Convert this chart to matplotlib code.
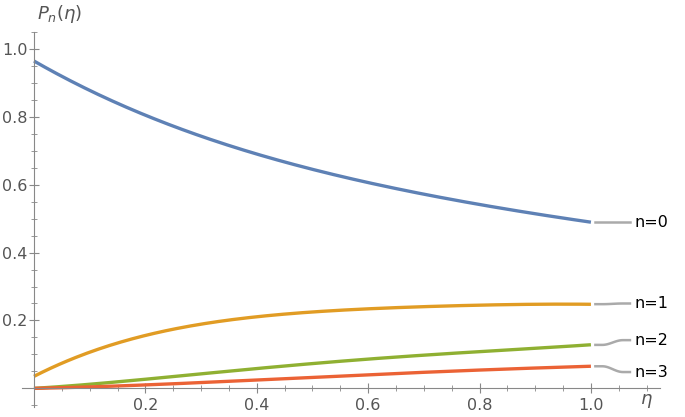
import numpy as np
import matplotlib.pyplot as plt
from matplotlib.ticker import MultipleLocator

eta = [0.0, 0.1, 0.2, 0.3, 0.4, 0.5, 0.6, 0.7, 0.8, 0.9, 1.0]
p0 = [0.963, 0.882, 0.803, 0.741, 0.690, 0.647, 0.607, 0.572, 0.541, 0.514, 0.490]
p1 = [0.035, 0.107, 0.156, 0.189, 0.210, 0.225, 0.235, 0.241, 0.245, 0.247, 0.248]
p2 = [0.0, 0.012, 0.026, 0.043, 0.059, 0.073, 0.086, 0.097, 0.108, 0.119, 0.128]
p3 = [0.0, 0.004, 0.010, 0.017, 0.025, 0.032, 0.040, 0.047, 0.054, 0.060, 0.065]
labels = ["n=0", "n=1", "n=2", "n=3"]
label_y = [0.490, 0.250, 0.142, 0.048]
colors = ["#5E81B5", "#E19C24", "#8FB032", "#EB6235"]
grey = "#555555"

fig = plt.figure(figsize=(6.85, 4.17), dpi=100)
ax = fig.add_axes([22 / 685, 1 - 407 / 417, (660 - 22) / 685, (407 - 32) / 417])
ax.set_xlim(-0.0215, 1.124)
ax.set_ylim(-0.055, 1.05)

xs = np.linspace(0, 1, 200)
for ys, c, lab, ly in zip([p0, p1, p2, p3], colors, labels, label_y):
    # smooth with a polynomial fit through the read points
    coef = np.polyfit(eta, ys, 4)
    ax.plot(xs, np.polyval(coef, xs), color=c, lw=2.4, solid_capstyle='butt',
            clip_on=False)
    y_end = ys[-1]
    t = np.linspace(0, 1, 30)
    s = 0.5 - 0.5 * np.cos(np.pi * np.clip((t - 0.2) / 0.6, 0, 1))
    ax.plot(1.008 + 0.062 * t, y_end + (ly - y_end) * s, color="#aaaaaa",
            lw=1.8, clip_on=False)
    ax.text(1.078, ly, lab, va='center', ha='left', fontsize=11.5,
            color='black', clip_on=False)

for side in ['top', 'right']:
    ax.spines[side].set_visible(False)
ax.spines['left'].set_position(('data', 0))
ax.spines['bottom'].set_position(('data', 0))
for side in ['left', 'bottom']:
    ax.spines[side].set_color('#888888')

ax.set_xticks([0.2, 0.4, 0.6, 0.8, 1.0])
ax.set_yticks([0.2, 0.4, 0.6, 0.8, 1.0])
ax.xaxis.set_minor_locator(MultipleLocator(0.05))
ax.yaxis.set_minor_locator(MultipleLocator(0.05))
ax.tick_params(which='both', direction='inout', colors='#888888',
               labelcolor=grey, labelsize=11.5)
ax.tick_params(axis='y', pad=1)
ax.tick_params(which='major', length=7)
ax.tick_params(which='minor', length=4)

fig.text(37 / 685, 1 - 14 / 417, r"$P_n(\eta)$", color=grey, fontsize=13,
         va='center', ha='left')
fig.text(646 / 685, 1 - 401 / 417, r"$\eta$", color=grey, fontsize=13,
         va='center', ha='center')

plt.savefig("out.png")
